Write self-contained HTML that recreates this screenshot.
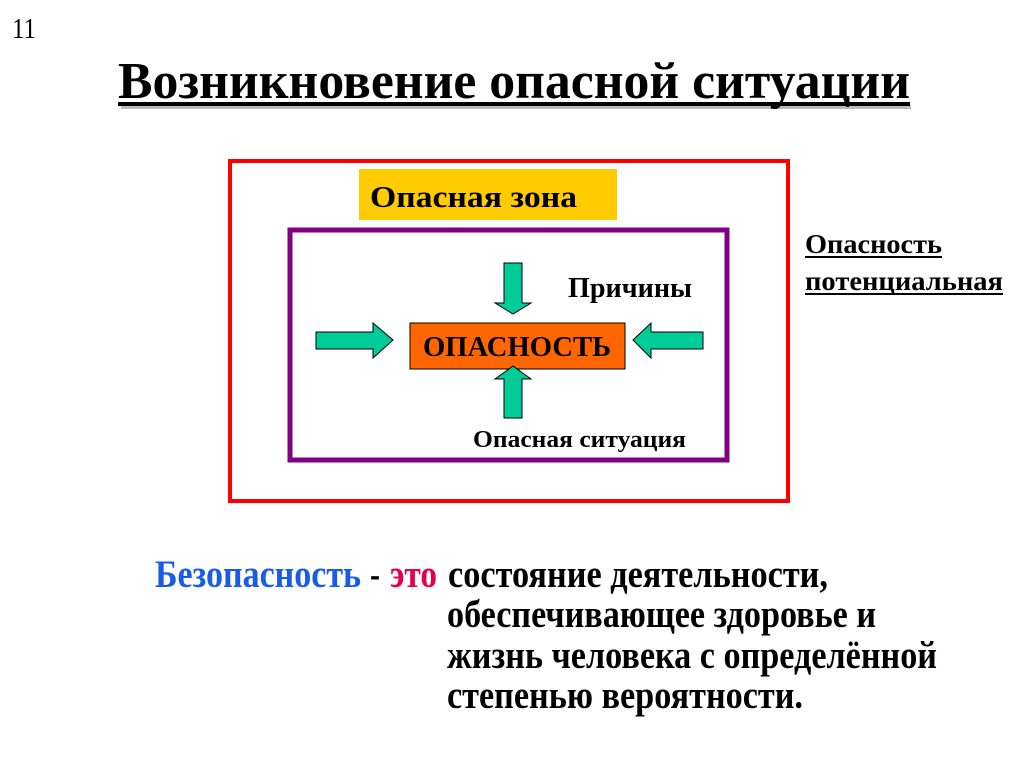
<!DOCTYPE html>
<html><head><meta charset="utf-8"><style>
html,body{margin:0;padding:0;background:#fff;}
svg{display:block;}
text{font-family:"Liberation Serif","Noto Serif CJK SC",serif;font-weight:bold;}
</style></head><body>
<svg width="1024" height="767" viewBox="0 0 1024 767" xmlns="http://www.w3.org/2000/svg">
<rect width="1024" height="767" fill="#fff"/>
<text x="12" y="38" font-size="28" style="font-weight:normal" textLength="24" lengthAdjust="spacingAndGlyphs">11</text>
<rect x="121" y="105" width="790" height="4" fill="#bbb"/>
<text x="118" y="98" font-size="52" textLength="792" lengthAdjust="spacingAndGlyphs" fill="#000">Возникновение опасной ситуации</text>
<rect x="118" y="102" width="792" height="4" fill="#000"/>

<rect x="230" y="161" width="558" height="340" fill="none" stroke="#ff0000" stroke-width="4"/>
<rect x="359" y="169" width="258" height="51" fill="#ffcc00"/>
<text x="370" y="207" font-size="31" textLength="207" lengthAdjust="spacingAndGlyphs">Опасная зона</text>
<rect x="290" y="230" width="437" height="230" fill="none" stroke="#800080" stroke-width="5"/>

<rect x="410" y="323" width="215" height="46" fill="#ff6600" stroke="#000" stroke-width="1"/>
<text x="517" y="356" font-size="29" text-anchor="middle" textLength="188" lengthAdjust="spacingAndGlyphs">ОПАСНОСТЬ</text>

<g fill="#00cc99" stroke="#000" stroke-width="1">
<polygon points="504,263 522,263 522,303 531,303 513,314 495,303 504,303"/>
<polygon points="504,418 522,418 522,379 531,379 513,366 495,379 504,379"/>
<polygon points="316,332 373,332 373,323 393,340 373,358 373,349 316,349"/>
<polygon points="703,332 651,332 651,323 633,340 651,358 651,349 703,349"/>
</g>

<text x="568" y="297" font-size="28" textLength="124" lengthAdjust="spacingAndGlyphs">Причины</text>
<text x="473" y="447" font-size="24" textLength="213" lengthAdjust="spacingAndGlyphs">Опасная ситуация</text>

<text x="805" y="253" font-size="27" textLength="137" lengthAdjust="spacingAndGlyphs">Опасность</text>
<rect x="805" y="256" width="137" height="2" fill="#000"/>
<text x="805" y="290" font-size="27" textLength="198" lengthAdjust="spacingAndGlyphs">потенциальная</text>
<rect x="805" y="293" width="198" height="2" fill="#000"/>

<text x="155" y="587" font-size="39" fill="#1a5ce6" textLength="206" lengthAdjust="spacingAndGlyphs">Безопасность</text>
<text x="370" y="587" font-size="39" fill="#000" textLength="10" lengthAdjust="spacingAndGlyphs">-</text>
<text x="390" y="587" font-size="39" fill="#e6004c" textLength="47" lengthAdjust="spacingAndGlyphs">это</text>
<text x="448" y="587" font-size="39" textLength="380" lengthAdjust="spacingAndGlyphs">состояние деятельности,</text>
<text x="447" y="627" font-size="39" textLength="429" lengthAdjust="spacingAndGlyphs">обеспечивающее здоровье и</text>
<text x="447" y="668" font-size="39" textLength="490" lengthAdjust="spacingAndGlyphs">жизнь человека с определённой</text>
<text x="447" y="708" font-size="39" textLength="356" lengthAdjust="spacingAndGlyphs">степенью вероятности.</text>
</svg>
</body></html>
